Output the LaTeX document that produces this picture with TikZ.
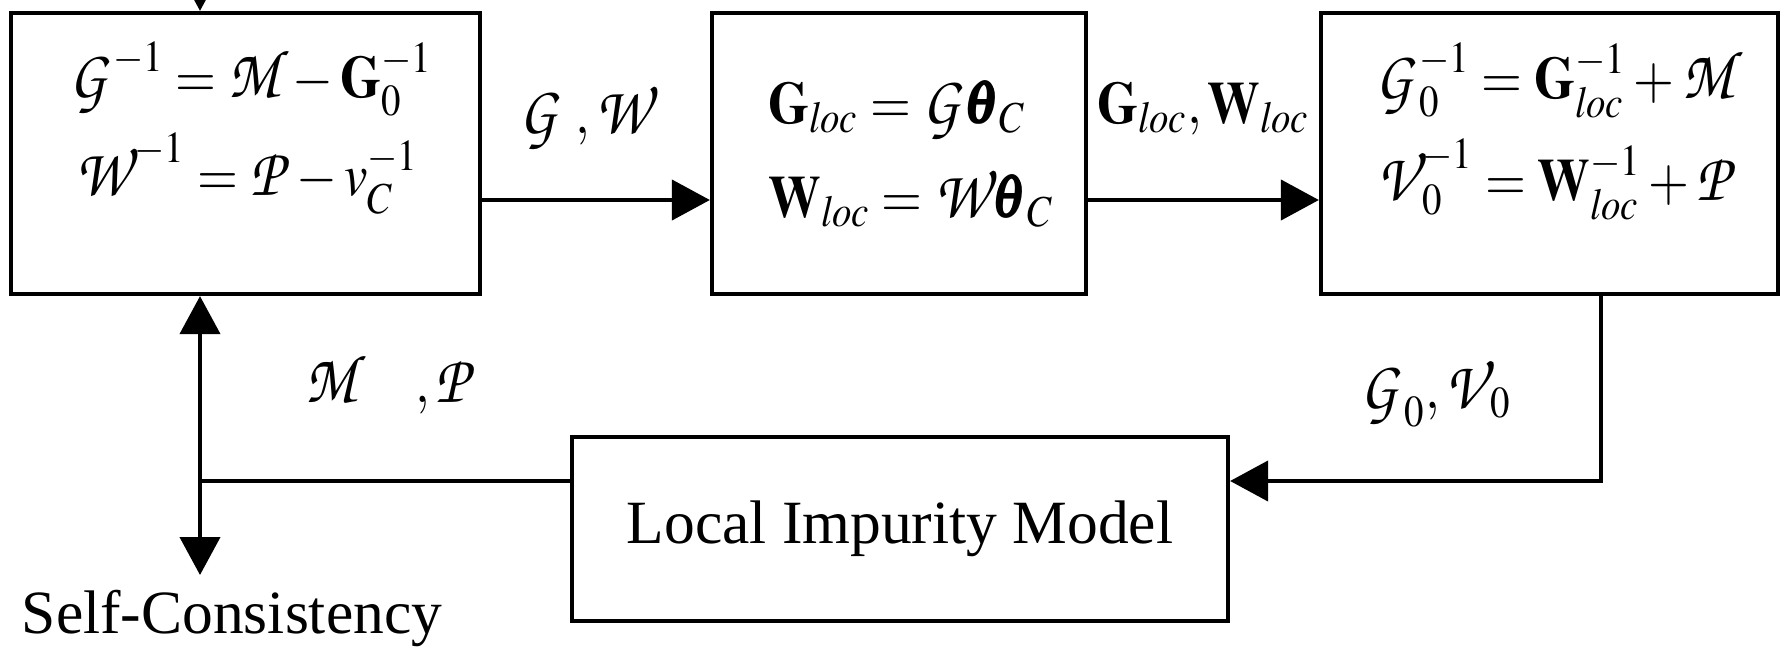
\documentclass[tikz,border=0pt]{standalone}
\usepackage{amsmath}
\usepackage{mathptmx}
\usepackage{fontspec}
\setmainfont{Liberation Serif}
\usepackage{tikz}
\usetikzlibrary{arrows.meta, positioning}

\newcommand{\scr}[1]{\text{\fontencoding{OT1}\fontfamily{pzc}\fontseries{mb}\fontshape{it}\fontsize{19.5}{20}\selectfont #1\kern0.1em}}
\newcommand{\loc}{\mathit{loc}}

\begin{document}
\begin{tikzpicture}[
    box/.style={draw=black, line width=1.2pt, inner sep=0pt, minimum height=2.81cm},
    eq/.style={anchor=base west, inner sep=0pt, transform shape, xscale=0.88, font=\fontsize{17}{20}\selectfont},
    lbl/.style={inner sep=0pt, transform shape, xscale=0.88, font=\fontsize{17}{20}\selectfont},
    txt/.style={inner sep=0pt, font=\fontsize{17.5}{21}\selectfont},
    arr/.style={-{Triangle[length=3.8mm, width=4mm]}, line width=1.2pt},
    wire/.style={line width=1.2pt}
  ]
  \useasboundingbox (0,0) rectangle (17.8,-6.52);

  \node[box, minimum width=4.69cm] (dyson) at (2.455,-1.535) {};
  \node[eq] (dys_g) at (0.69,-0.97) {$\scr{G}^{-1} = \scr{M} - \mathbf{G}_0^{-1}$};
  \node[eq] (dys_w) at (0.75,-1.95) {$\scr{W}^{-1} = \scr{P} - v_C^{-1}$};

  \node[box, minimum width=3.74cm] (proj) at (8.99,-1.535) {};
  \node[eq] (proj_g) at (7.68,-1.23) {$\mathbf{G}_{\loc} = \scr{G}\pmb{\theta}_C$};
  \node[eq] (proj_w) at (7.68,-2.17) {$\mathbf{W}_{\loc} = \scr{W}\pmb{\theta}_C$};

  \node[box, minimum width=4.57cm] (weiss) at (15.495,-1.535) {};
  \node[eq] (weiss_g) at (13.75,-0.98) {$\scr{G}_0^{-1} = \mathbf{G}_{\loc}^{-1} + \scr{M}$};
  \node[eq] (weiss_v) at (13.77,-2.0) {$\scr{V}_0^{-1} = \mathbf{W}_{\loc}^{-1} + \scr{P}$};

  \node[box, minimum width=6.56cm, minimum height=1.84cm, font=\fontsize{17.5}{21}\selectfont] (imp) at (9.0,-5.29) {Local Impurity Model};

  \coordinate (feed) at (2.0,0.4);
  \coordinate (flow) at (0,-2.0);
  \coordinate (drop) at (16.01,-4.81);
  \coordinate (junc) at (2.0,-4.81);

  \draw[arr] (feed) -- (feed |- dyson.north);
  \draw[arr] (dyson.east |- flow) -- node[lbl, midway, anchor=base, yshift=6.7mm, xshift=-1mm] (gw) {$\scr{G}\;,\scr{W}$} (proj.west |- flow);
  \draw[arr] (proj.east |- flow) -- node[lbl, midway, anchor=base, yshift=7.7mm] (locgw) {$\mathbf{G}_{\loc},\mathbf{W}_{\loc}$} (weiss.west |- flow);

  \draw[arr] (drop |- weiss.south) -- (drop) -- (imp.east |- drop);
  \node[lbl, anchor=base] (g0v0) at (14.36,-4.08) {$\scr{G}_0,\scr{V}_0$};

  \draw[wire] (imp.west |- junc) -- (junc);
  \draw[arr] (junc) -- (junc |- dyson.south);
  \draw[arr] (junc) -- ++(0,-0.94) coordinate (sctip);
  \node[lbl, anchor=base] (mp) at (3.9,-4.02) {$\scr{M}\quad,\scr{P}$};
  \node[txt, anchor=base] (selfcons) at (2.32,-6.33) {Self-Consistency};
\end{tikzpicture}
\end{document}
